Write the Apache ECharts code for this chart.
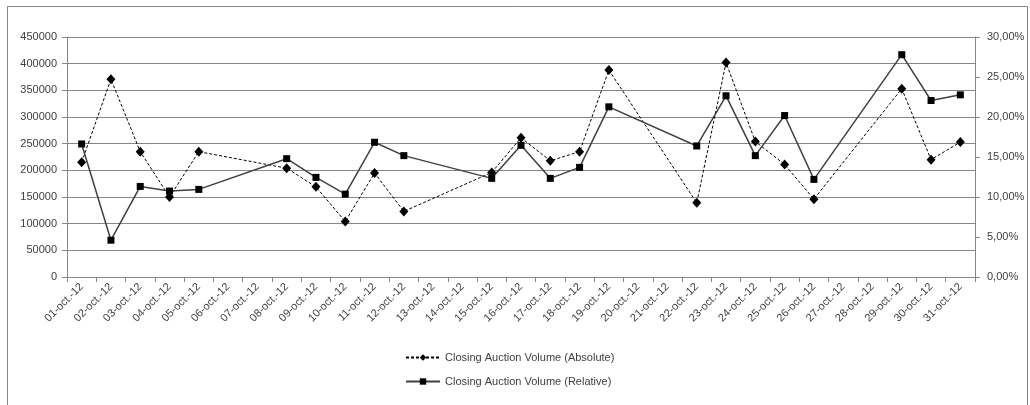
<!DOCTYPE html>
<html><head><meta charset="utf-8">
<script src="https://cdn.jsdelivr.net/npm/echarts@6/dist/echarts.min.js"></script>
<style>html,body{margin:0;padding:0;background:#fff}#c{width:1030px;height:405px}</style>
</head><body><div id="c"></div>
<script>
const categories = ['01-oct.-12','02-oct.-12','03-oct.-12','04-oct.-12','05-oct.-12','06-oct.-12','07-oct.-12','08-oct.-12','09-oct.-12','10-oct.-12','11-oct.-12','12-oct.-12','13-oct.-12','14-oct.-12','15-oct.-12','16-oct.-12','17-oct.-12','18-oct.-12','19-oct.-12','20-oct.-12','21-oct.-12','22-oct.-12','23-oct.-12','24-oct.-12','25-oct.-12','26-oct.-12','27-oct.-12','28-oct.-12','29-oct.-12','30-oct.-12','31-oct.-12'];
const absoluteVolume = [215000,371000,235000,150000,235000,null,null,204000,169000,104000,195000,123000,null,null,196000,261000,218000,235000,388000,null,null,139000,402000,254000,211000,146000,null,null,353000,220000,253000];
const relativeVolume = [0.1663,0.0460,0.1132,0.1074,0.1095,null,null,0.1479,0.1245,0.1036,0.1684,0.1517,null,null,0.1233,0.1646,0.1233,0.1370,0.2127,null,null,0.1638,0.2265,0.1517,0.2018,0.1220,null,null,0.2779,0.2206,0.2277];
const leftTicks = {min:0, max:450000, interval:50000};
const rightTicks = {min:0, max:0.30, interval:0.05};

const font = 'Liberation Sans';
const txt = '#404040';
const gridC = '#868686';
const chart = echarts.init(document.getElementById('c'));
chart.setOption({
  animation:false,
  textStyle:{fontFamily:font},
  graphic:[{type:'rect',shape:{x:7.5,y:6.5,width:1020,height:410},style:{fill:'none',stroke:gridC,lineWidth:1},silent:true}],
  grid:{left:67,right:55,top:37,bottom:128,containLabel:false},
  legend:{
    orient:'vertical',left:400,top:347,itemWidth:34,itemHeight:8,itemGap:13,
    textStyle:{fontFamily:font,fontSize:11,color:txt},
    data:['Closing Auction Volume (Absolute)','Closing Auction Volume (Relative)']
  },
  xAxis:{
    type:'category',data:categories,boundaryGap:true,
    axisLine:{lineStyle:{color:gridC}},
    axisTick:{show:true,interval:0,length:5,lineStyle:{color:gridC}},
    axisLabel:{interval:0,rotate:45,fontSize:11,color:txt,fontFamily:font,margin:8}
  },
  yAxis:[{
    type:'value',min:leftTicks.min,max:leftTicks.max,interval:leftTicks.interval,
    axisLine:{show:true,lineStyle:{color:gridC}},
    axisTick:{show:true,length:5,lineStyle:{color:gridC}},
    splitLine:{show:true,lineStyle:{color:gridC,width:1}},
    axisLabel:{fontSize:11,color:txt,fontFamily:font,margin:10,formatter:v=>String(v)}
  },{
    type:'value',min:rightTicks.min,max:rightTicks.max,interval:rightTicks.interval,position:'right',
    axisLine:{show:true,lineStyle:{color:gridC}},
    axisTick:{show:true,length:5,lineStyle:{color:gridC}},
    splitLine:{show:false},
    axisLabel:{fontSize:11,color:txt,fontFamily:font,margin:12,
      formatter:v=>(v*100).toFixed(2).replace('.',',')+'%'}
  }],
  series:[{
    name:'Closing Auction Volume (Absolute)',type:'line',yAxisIndex:0,data:absoluteVolume,
    connectNulls:true,symbol:'diamond',symbolSize:[9,10],showAllSymbol:true,
    lineStyle:{color:'#000',width:1,type:[3,2]},itemStyle:{color:'#000'}
  },{
    name:'Closing Auction Volume (Relative)',type:'line',yAxisIndex:1,data:relativeVolume,
    connectNulls:true,symbol:'rect',symbolSize:7,showAllSymbol:true,
    lineStyle:{color:'#404040',width:1.5,type:'solid'},itemStyle:{color:'#000'}
  }]
});
</script></body></html>
